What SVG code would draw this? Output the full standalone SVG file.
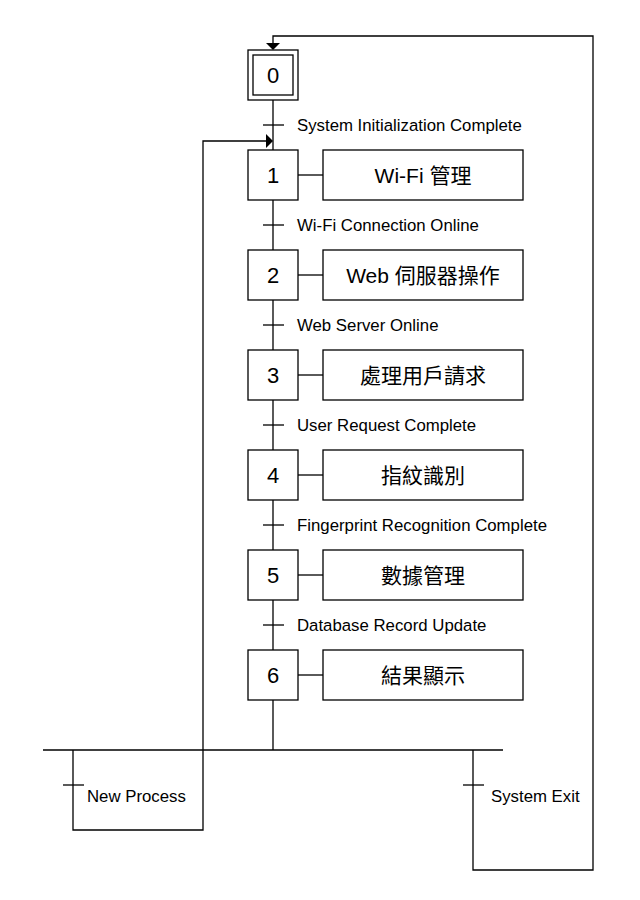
<svg xmlns="http://www.w3.org/2000/svg" width="640" height="900" viewBox="0 0 640 900">
<style>
rect{fill:#fff;stroke:#000;stroke-width:1.3}
line,polyline{stroke:#000;stroke-width:1.3;fill:none}
.num{font-family:"Liberation Sans",Arial,sans-serif;font-size:22px;text-anchor:middle}
.act{font-family:"Liberation Sans","Noto Sans CJK TC",sans-serif;font-size:21px;text-anchor:middle}
.lbl{font-family:"Liberation Sans",Arial,sans-serif;font-size:16.8px}
.arr{fill:#000;stroke:none}
</style>
<rect x="0" y="0" width="640" height="900" style="stroke:none"/>
<g id="connectors">
<line x1="273" y1="100" x2="273" y2="150"/>
<line x1="273" y1="200" x2="273" y2="250"/>
<line x1="273" y1="300" x2="273" y2="350"/>
<line x1="273" y1="400" x2="273" y2="450"/>
<line x1="273" y1="500" x2="273" y2="550"/>
<line x1="273" y1="600" x2="273" y2="650"/>
<line x1="273" y1="700" x2="273" y2="750"/>
<line x1="298" y1="175" x2="323" y2="175"/>
<line x1="298" y1="275" x2="323" y2="275"/>
<line x1="298" y1="375" x2="323" y2="375"/>
<line x1="298" y1="475" x2="323" y2="475"/>
<line x1="298" y1="575" x2="323" y2="575"/>
<line x1="298" y1="675" x2="323" y2="675"/>
<line x1="43" y1="750" x2="503" y2="750"/>
<polyline points="73,750 73,830 203,830 203,141 266,141"/>
<polygon class="arr" points="266,134 273,141 266,148"/>
<polyline points="473,750 473,870 593,870 593,36 273,36 273,43"/>
<polygon class="arr" points="266,43 280,43 273,50"/>
</g>
<g id="t1"><line x1="263" y1="125" x2="284" y2="125"/><text class="lbl" x="297" y="131">System Initialization Complete</text></g>
<g id="t2"><line x1="263" y1="225" x2="284" y2="225"/><text class="lbl" x="297" y="231">Wi-Fi Connection Online</text></g>
<g id="t3"><line x1="263" y1="325" x2="284" y2="325"/><text class="lbl" x="297" y="331">Web Server Online</text></g>
<g id="t4"><line x1="263" y1="425" x2="284" y2="425"/><text class="lbl" x="297" y="431">User Request Complete</text></g>
<g id="t5"><line x1="263" y1="525" x2="284" y2="525"/><text class="lbl" x="297" y="531">Fingerprint Recognition Complete</text></g>
<g id="t6"><line x1="263" y1="625" x2="284" y2="625"/><text class="lbl" x="297" y="631">Database Record Update</text></g>
<g id="t-new"><line x1="63" y1="785" x2="84" y2="785"/><text class="lbl" x="87" y="802">New Process</text></g>
<g id="t-exit"><line x1="463" y1="785" x2="484" y2="785"/><text class="lbl" x="491" y="802">System Exit</text></g>
<g id="step0"><rect x="248" y="50" width="50" height="50"/><rect x="253" y="55" width="40" height="40"/><text class="num" x="273" y="83">0</text></g>
<g id="step1"><rect x="248" y="150" width="50" height="50"/><text class="num" x="273" y="183">1</text></g>
<g id="action1"><rect x="323" y="150" width="200" height="50"/><text class="act" x="423" y="183">Wi-Fi 管理</text></g>
<g id="step2"><rect x="248" y="250" width="50" height="50"/><text class="num" x="273" y="283">2</text></g>
<g id="action2"><rect x="323" y="250" width="200" height="50"/><text class="act" x="423" y="283">Web 伺服器操作</text></g>
<g id="step3"><rect x="248" y="350" width="50" height="50"/><text class="num" x="273" y="383">3</text></g>
<g id="action3"><rect x="323" y="350" width="200" height="50"/><text class="act" x="423" y="383">處理用戶請求</text></g>
<g id="step4"><rect x="248" y="450" width="50" height="50"/><text class="num" x="273" y="483">4</text></g>
<g id="action4"><rect x="323" y="450" width="200" height="50"/><text class="act" x="423" y="483">指紋識別</text></g>
<g id="step5"><rect x="248" y="550" width="50" height="50"/><text class="num" x="273" y="583">5</text></g>
<g id="action5"><rect x="323" y="550" width="200" height="50"/><text class="act" x="423" y="583">數據管理</text></g>
<g id="step6"><rect x="248" y="650" width="50" height="50"/><text class="num" x="273" y="683">6</text></g>
<g id="action6"><rect x="323" y="650" width="200" height="50"/><text class="act" x="423" y="683">結果顯示</text></g>
</svg>
